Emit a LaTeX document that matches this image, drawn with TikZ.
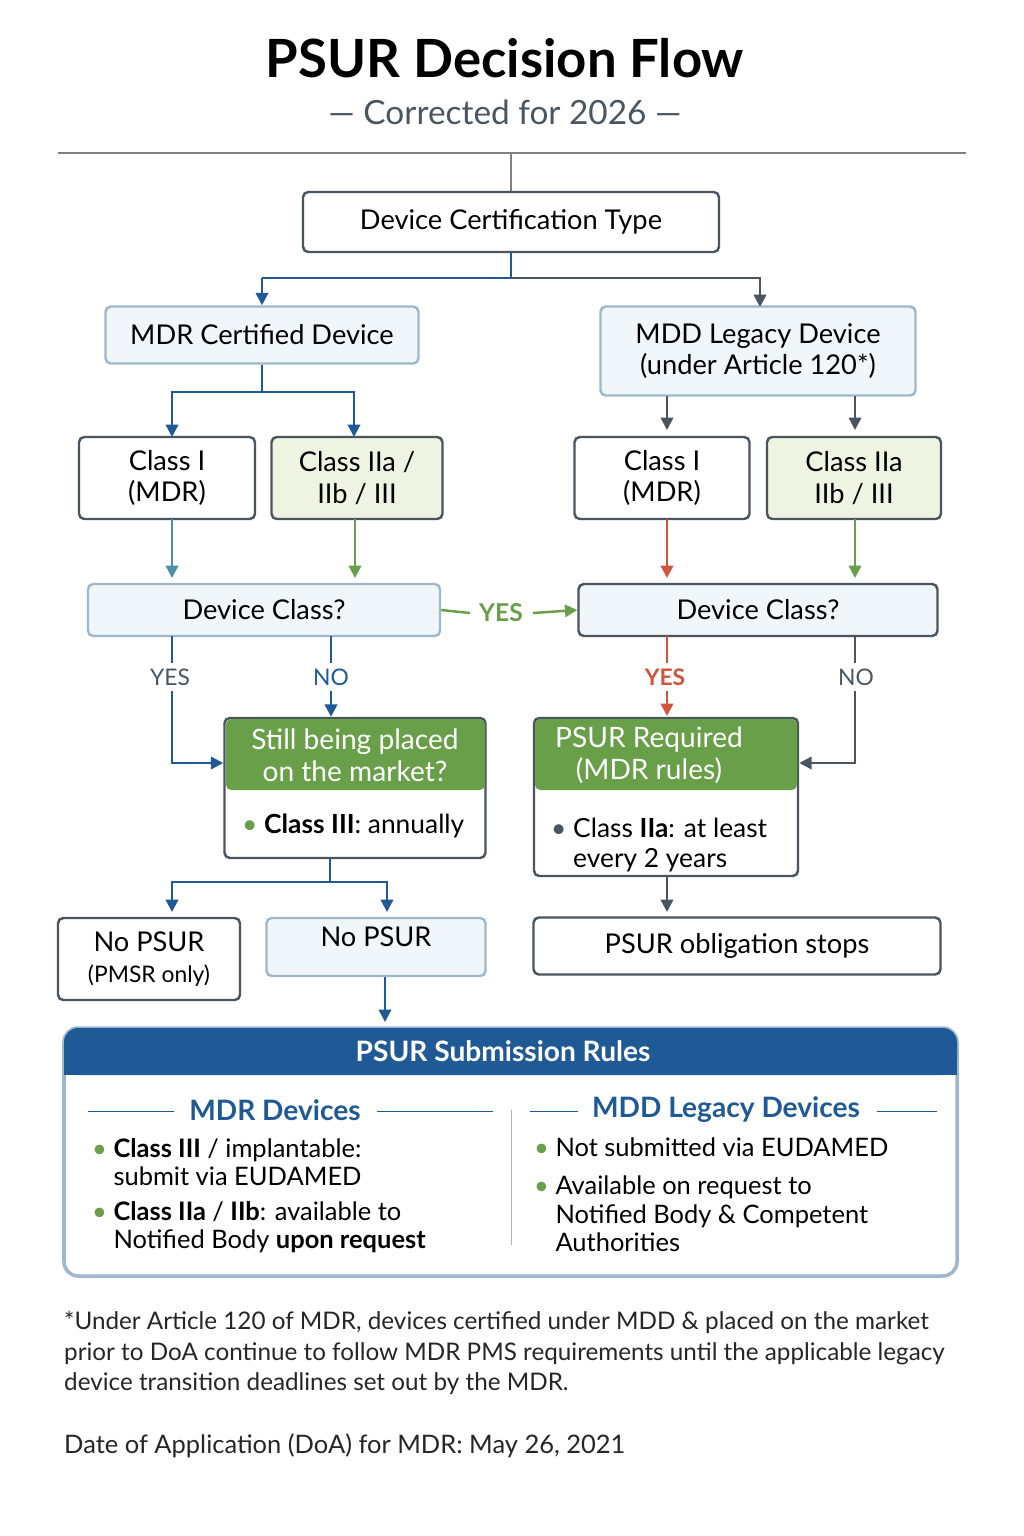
\documentclass[tikz,border=0pt]{standalone}
\usepackage{fontspec}
\setmainfont{Lato}
\usetikzlibrary{arrows.meta,positioning}
\definecolor{navy}{HTML}{1F5A96}
\definecolor{leaf}{HTML}{6A9F4A}
\definecolor{leaffill}{HTML}{EEF3E2}
\definecolor{skyfill}{HTML}{F1F6FA}
\definecolor{skyline}{HTML}{9DB8CE}
\definecolor{slate}{HTML}{4A5560}
\definecolor{teal2}{HTML}{4E8FA8}
\definecolor{brick}{HTML}{D2543C}
\tikzset{
  box/.style={draw=slate,line width=1.4pt,rounded corners=3pt,fill=white,align=center,font=\fontsize{15.5}{18}\selectfont},
  skybox/.style={box,draw=skyline,fill=skyfill},
  greenbox/.style={box,draw=slate,fill=leaffill},
  link/.style={line width=1.4pt,-{Triangle[length=7pt,width=7pt]}},
  lbl/.style={font=\fontsize{13}{15}\selectfont}
}
\begin{document}
\begin{tikzpicture}[x=0.02cm,y=-0.02cm]
\useasboundingbox[fill=white] (0,0) rectangle (1024,1536);
% title
\node at (505,58) {\fontsize{30}{34}\selectfont\bfseries PSUR Decision Flow};
\node[text=slate] at (505,112) {\fontsize{19}{22}\selectfont --- Corrected for 2026 ---};
\draw[gray,line width=0.8pt] (58,153) -- (966,153);
\draw[gray,line width=0.8pt] (511,153) -- (511,192);
% level 1
\node[box,minimum width=416*0.02cm,minimum height=60*0.02cm] (cert) at (511,222) {Device Certification Type};
\node[skybox,minimum width=313*0.02cm,minimum height=57*0.02cm] (mdr) at (262,335) {MDR Certified Device};
\node[skybox,minimum width=315*0.02cm,minimum height=89*0.02cm] (mdd) at (758,351) {MDD Legacy Device\\(under Article 120*)};
\draw[navy,line width=1.6pt] (cert.south) -- (511,278) -- (262,278);
\draw[link,navy] (262,278) -- (mdr.north);
\draw[link,slate] (511,278) -- (760,278) -- (760,307);
% level 2
\node[box,minimum width=176*0.02cm,minimum height=82*0.02cm] (c1) at (167,478) {Class I\\(MDR)};
\node[greenbox,minimum width=171*0.02cm,minimum height=82*0.02cm] (c2) at (357,478) {Class IIa /\\IIb / III};
\node[box,minimum width=175*0.02cm,minimum height=82*0.02cm] (c3) at (662,478) {Class I\\(MDR)};
\node[greenbox,minimum width=174*0.02cm,minimum height=82*0.02cm] (c4) at (854,478) {Class IIa\\IIb / III};
\draw[navy,line width=1.4pt] (mdr.south) -- (262,392);
\draw[link,navy] (262,392) -- (172,392) -- (172,437);
\draw[link,navy] (262,392) -- (354,392) -- (354,437);
\draw[link,slate] (667,396) -- (667,430);
\draw[link,slate] (855,396) -- (855,430);
% device class
\node[skybox,minimum width=352*0.02cm,minimum height=52*0.02cm] (dc1) at (264,610) {Device Class?};
\node[skybox,draw=slate,minimum width=359*0.02cm,minimum height=52*0.02cm] (dc2) at (758,610) {Device Class?};
\draw[link,teal2] (172,519) -- (172,578);
\draw[link,leaf] (355,519) -- (355,578);
\draw[link,brick] (667,519) -- (667,578);
\draw[link,leaf] (855,519) -- (855,578);
\draw[leaf,line width=1.4pt] (dc1.east) -- (470,613);
\node[lbl,text=leaf,font=\fontsize{14}{16}\selectfont\bfseries] (yes) at (501,613) {YES};
\draw[link,leaf] (533,613) -- (dc2.west);
% still / required
\node[box,draw=slate,minimum width=261*0.02cm,minimum height=140*0.02cm] (still) at (355,788) {};
\fill[leaf,rounded corners=3pt] (226,719) rectangle (485,790);
\node[text=white,align=center,font=\fontsize{16}{18}\selectfont] at (355,755) {Still being placed\\on the market?};
\node[anchor=west,font=\fontsize{15}{18}\selectfont] at (236,826) {\textcolor{leaf}{\textbullet} \textbf{Class III}: annually};
\node[box,draw=slate,minimum width=264*0.02cm,minimum height=158*0.02cm] (req) at (666,797) {};
\fill[leaf,rounded corners=3pt] (535,719) rectangle (797,790);
\node[text=white,align=center,font=\fontsize{16}{18}\selectfont] at (649,755) {PSUR Required\\(MDR rules)};
\node[anchor=north west,align=left,font=\fontsize{15}{17}\selectfont] at (545,812) {\textcolor{slate}{\textbullet} Class \textbf{IIa}: at least\\\phantom{\textbullet} every 2 years};
\draw[navy,line width=1.4pt] (172,636) -- (172,663);
\node[lbl,text=slate] at (170,677) {YES};
\draw[link,navy] (172,691) -- (172,763) -- (still.west |- 0,763);
\draw[navy,line width=1.4pt] (331,636) -- (331,663);
\node[lbl,text=navy] at (331,677) {NO};
\draw[link,navy] (331,691) -- (still.north -| 331,0);
\draw[brick,line width=1.4pt] (667,636) -- (667,663);
\node[lbl,text=brick,font=\fontsize{13}{15}\selectfont\bfseries] at (665,677) {YES};
\draw[link,brick] (667,691) -- (667,716);
\draw[slate,line width=1.4pt] (855,636) -- (855,663);
\node[lbl,text=slate] at (856,677) {NO};
\draw[link,slate] (855,691) -- (855,763) -- (req.east |- 0,763);
% outcomes
\node[box,minimum width=182*0.02cm,minimum height=82*0.02cm] (pmsr) at (149,959) {No PSUR\\{\fontsize{13}{16}\selectfont(PMSR only)}};
\node[skybox,minimum width=219*0.02cm,minimum height=58*0.02cm,text depth=12pt] (nop) at (376,947) {No PSUR};
\node[box,minimum width=407*0.02cm,minimum height=57*0.02cm] (stops) at (737,946) {PSUR obligation stops};
\draw[navy,line width=1.4pt] (330,858) -- (330,882);
\draw[link,navy] (330,882) -- (172,882) -- (172,912);
\draw[link,navy] (330,882) -- (387,882) -- (387,912);
\draw[link,slate] (667,876) -- (667,912);
\draw[link,navy] (nop.south -| 385,0) -- (385,1022);
% rules panel
\draw[skyline,line width=2pt,rounded corners=8pt,fill=white] (64,1028) rectangle (957,1276);
\fill[navy,rounded corners=8pt] (64,1028) rectangle (957,1075);
\fill[navy] (64,1055) rectangle (957,1075);
\node[text=white,font=\fontsize{16}{18}\selectfont\bfseries] at (503,1051) {PSUR Submission Rules};
\draw[navy] (88,1111) -- (174,1111) (377,1111) -- (493,1111);
\node[text=navy,font=\fontsize{16}{18}\selectfont\bfseries] at (275,1110) {MDR Devices};
\draw[navy] (530,1111) -- (578,1111) (877,1111) -- (937,1111);
\node[text=navy,font=\fontsize{16}{18}\selectfont\bfseries] at (726,1110) {MDD Legacy Devices};
\draw[gray!60] (511,1110) -- (511,1245);
\tikzset{rule/.style={anchor=north west,align=left,font=\fontsize{14.5}{16}\selectfont}}
\node[rule] at (86,1132) {\textcolor{leaf}{\textbullet}\ \textbf{Class III} / implantable:\\\phantom{\textbullet\ }submit via EUDAMED};
\node[rule] at (86,1195) {\textcolor{leaf}{\textbullet}\ \textbf{Class IIa} / \textbf{IIb}: available to\\\phantom{\textbullet\ }Notified Body \textbf{upon request}};
\node[rule] at (528,1132) {\textcolor{leaf}{\textbullet}\ Not submitted via EUDAMED};
\node[rule] at (528,1170) {\textcolor{leaf}{\textbullet}\ Available on request to\\\phantom{\textbullet\ }Notified Body \& Competent\\\phantom{\textbullet\ }Authorities};
% footnote
\node[anchor=north west,align=left,font=\fontsize{13.8}{17.5}\selectfont,text=black!85] at (58,1305) {*Under Article 120 of MDR, devices certified under MDD \& placed on the market\\prior to DoA continue to follow MDR PMS requirements until the applicable legacy\\device transition deadlines set out by the MDR.};
\node[anchor=west,font=\fontsize{14.5}{16}\selectfont,text=black!85] at (58,1446) {Date of Application (DoA) for MDR: May 26, 2021};
\end{tikzpicture}
\end{document}
